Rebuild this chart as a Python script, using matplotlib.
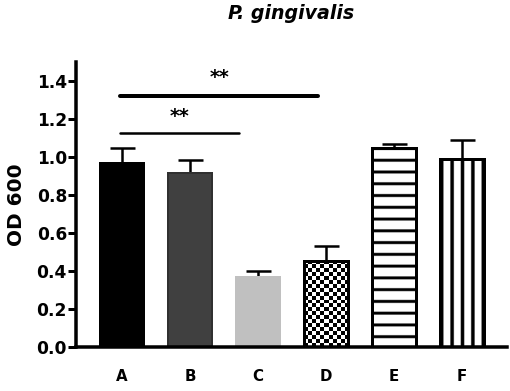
import numpy as np
import matplotlib
matplotlib.use("Agg")
from matplotlib import pyplot as plt

# values
groups = ["A", "B", "C", "D", "E", "F"]
od600 = [0.97, 0.917, 0.367, 0.453, 1.049, 0.991]
sem = [0.076, 0.067, 0.033, 0.080, 0.018, 0.098]
sig_pairs = [(0, 3, 1.32), (0, 2, 1.127)]
sig_text = ["**", "**"]

plt.rcParams['font.family'] = ['DejaVu Sans']
plt.rcParams['font.weight'] = 'bold'

fig = plt.figure(figsize=(510/72, 391/72), dpi=72)
ax = fig.add_axes([0.149, 0.1125, 0.845, 0.7295])

x = np.arange(len(groups))
fills = ["black", "#404040", "#c0c0c0", "white", "white", "white"]
edges = ["black", "#303030", "#c0c0c0", "black", "black", "black"]

bars = ax.bar(x, od600, width=0.65, color=fills, edgecolor=edges, linewidth=2, zorder=2)

ax.errorbar(x, od600, yerr=[np.zeros(len(sem)), sem], fmt="none", ecolor="black",
            elinewidth=2.5, capsize=12.5, capthick=2.5, zorder=1)

ax.set_xlim(-0.68, 5.66)
ax.set_ylim(0, 1.5)


def fill_pattern(bar, pattern, up=1, interp="nearest"):
    # paint a 0/1 pattern (1 = black) inside a bar
    bx, bw, bh = bar.get_x(), bar.get_width(), bar.get_height()
    pat = np.repeat(np.repeat(pattern, up, axis=0), up, axis=1)
    im = ax.imshow(1 - pat, cmap="gray", vmin=0, vmax=1, extent=[bx, bx + bw, 0, bh],
                   aspect="auto", interpolation=interp, zorder=2.5)
    im.set_clip_path(bar)
    ax.bar(bar.get_x() + bw / 2, bh, width=bw, color="none", edgecolor="black",
           linewidth=3, zorder=3)


px_per_y = 190.2
# D: checkerboard, ~4 px squares
ny = int(round(od600[3] * px_per_y / 4))
fill_pattern(bars[3], (np.add.outer(np.arange(ny), np.arange(11)) % 2).astype(float))
# E: horizontal stripes every ~11.6 px
ne = int(round(od600[4] * px_per_y / 11.6))
fill_pattern(bars[4], np.tile([[1.0], [0.0], [0.0], [0.0]], (ne, 1)), up=10, interp="bilinear")
# F: vertical stripes
fill_pattern(bars[5], np.array([[1, 0, 0, 1, 0, 0, 1, 0, 0, 1, 0, 0, 1]], dtype=float),
             up=10, interp="bilinear")

# significance lines
line_end = [0.12, 0.28]
for (i, j, y), t, lw, e in zip(sig_pairs, sig_text, [4, 2.5], line_end):
    x0, x1 = x[i] - 0.03, x[j] - e
    ax.plot([x0, x1], [y, y], color="black", lw=lw, solid_capstyle="round")
    ax.text((x0 + x1) / 2, y + 0.035 + (0.01 if lw > 3 else 0), t, ha="center", va="bottom",
            fontsize=19, fontweight="bold")

ax.set_yticks(np.arange(0, 1.41, 0.2))
ax.set_yticklabels([f"{v:.1f}" for v in np.arange(0, 1.41, 0.2)], fontsize=17, fontweight="bold")
ax.set_xticks(x)
ax.set_xticklabels(groups, fontsize=15, fontweight="bold")
ax.tick_params(axis="x", length=0, pad=22)
ax.tick_params(axis="y", length=8, width=3, pad=1)
for s in ["top", "right"]:
    ax.spines[s].set_visible(False)
for s in ["left", "bottom"]:
    ax.spines[s].set_linewidth(3.5)

ax.set_ylabel("OD 600", fontsize=20, fontweight="bold", labelpad=10)
ax.set_title("P. gingivalis", fontsize=19, fontweight="bold", style="italic", pad=43)

fig.savefig("out.png", dpi=72)
